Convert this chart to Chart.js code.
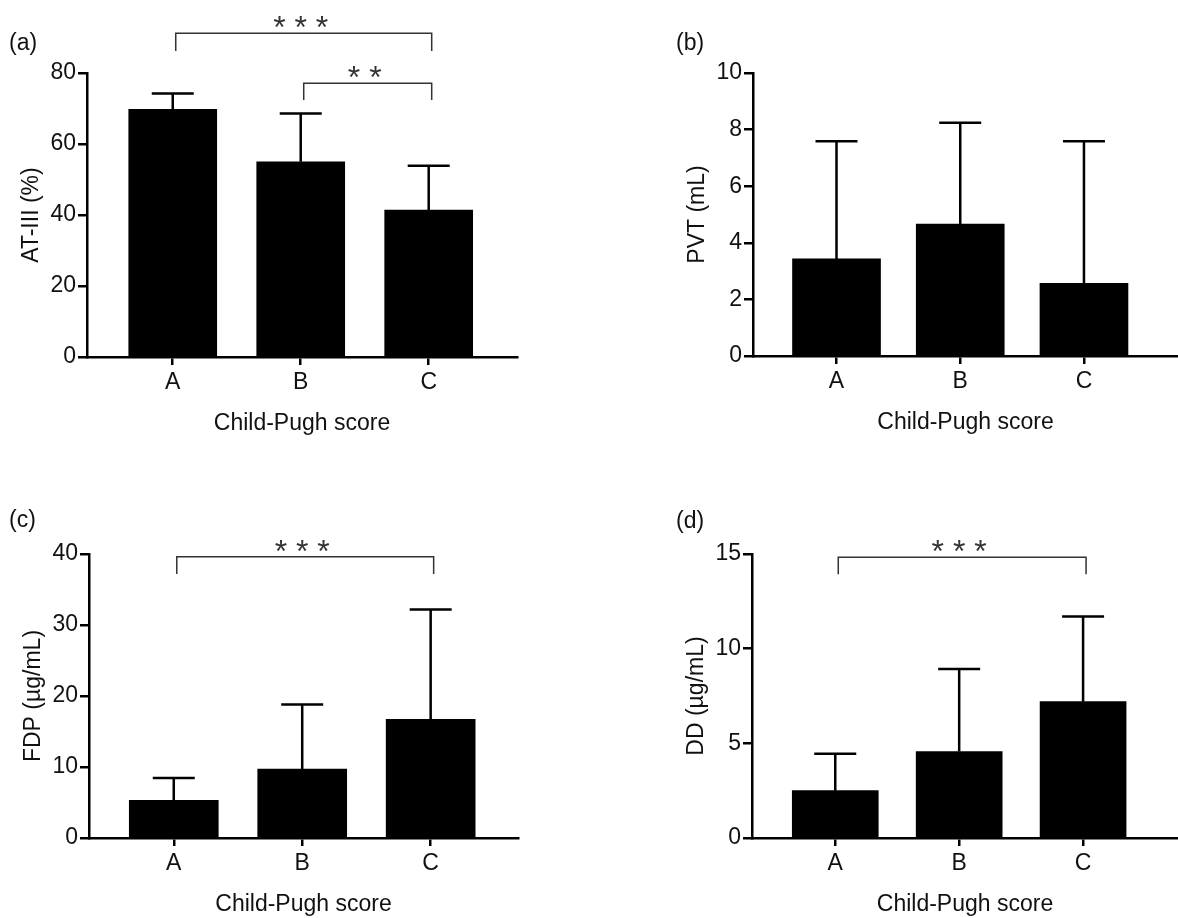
<!DOCTYPE html>
<html>
<head>
<meta charset="utf-8">
<script src="https://cdn.jsdelivr.net/npm/chart.js@4"></script>
<style>
  body { margin: 0; background: #fff; }
  .panel { position: absolute; width: 589px; height: 459px; }
  .tag { position: absolute; font: 23px "Liberation Sans", Arial, sans-serif; color: #111; }
</style>
</head>
<body>
<div class="panel" style="left:0;top:0"><canvas id="chartA" width="589" height="459"></canvas></div>
<div class="panel" style="left:589px;top:0"><canvas id="chartB" width="589" height="459"></canvas></div>
<div class="panel" style="left:0;top:459px"><canvas id="chartC" width="589" height="459"></canvas></div>
<div class="panel" style="left:589px;top:459px"><canvas id="chartD" width="589" height="459"></canvas></div>
<div class="tag" style="left:9px;top:29px">(a)</div>
<div class="tag" style="left:676px;top:29px">(b)</div>
<div class="tag" style="left:9px;top:506px">(c)</div>
<div class="tag" style="left:676px;top:507px">(d)</div>
<script>
// Child-Pugh groups
const groups = ["A", "B", "C"];

// mean and SD
const atMean = [69.8, 55.0, 41.4];
const atSd = [4.4, 13.6, 12.5];
const pvtMean = [3.43, 4.66, 2.57];
const pvtSd = [4.16, 3.58, 5.02];
const fdpMean = [5.3, 9.7, 16.7];
const fdpSd = [3.15, 9.1, 15.5];
const ddMean = [2.5, 4.57, 7.2];
const ddSd = [1.95, 4.35, 4.5];

// y axis ticks
const atTicks = [0, 20, 40, 60, 80];
const pvtTicks = [0, 2, 4, 6, 8, 10];
const fdpTicks = [0, 10, 20, 30, 40];
const ddTicks = [0, 5, 10, 15];

// significance brackets: group index from/to, bracket level, leg end, stars
const atBrackets = [
  { from: 0, to: 2, level: 91.2, leg: 86.2, text: "* * *" },
  { from: 1, to: 2, level: 77.1, leg: 72.4, text: "* *" }
];
const pvtBrackets = [];
const fdpBrackets = [{ from: 0, to: 2, level: 39.6, leg: 37.2, text: "* * *" }];
const ddBrackets = [{ from: 0, to: 2, level: 14.83, leg: 13.93, text: "* * *" }];

const FONT = '"Liberation Sans", Arial, sans-serif';

const errorBarPlugin = {
  id: "errorBars",
  afterDatasetsDraw(chart, args, opts) {
    const { ctx, scales: { x, y } } = chart;
    ctx.save();
    ctx.strokeStyle = "#000";
    ctx.lineWidth = 2.5;
    opts.means.forEach((m, i) => {
      const px = x.getPixelForValue(i);
      const base = y.getPixelForValue(m);
      const top = y.getPixelForValue(m + opts.sds[i]);
      ctx.beginPath();
      ctx.moveTo(px, base);
      ctx.lineTo(px, top);
      ctx.moveTo(px - 21, top);
      ctx.lineTo(px + 21, top);
      ctx.stroke();
    });

    // brackets with stars
    ctx.strokeStyle = "#333";
    ctx.fillStyle = "#333";
    ctx.lineWidth = 1.5;
    ctx.font = "32px " + FONT;
    ctx.textAlign = "center";
    ctx.textBaseline = "alphabetic";
    opts.brackets.forEach(b => {
      const x1 = x.getPixelForValue(b.from) + 3;
      const x2 = x.getPixelForValue(b.to) + 3;
      const yl = y.getPixelForValue(b.level);
      const yg = y.getPixelForValue(b.leg);
      ctx.beginPath();
      ctx.moveTo(x1, yg);
      ctx.lineTo(x1, yl);
      ctx.lineTo(x2, yl);
      ctx.lineTo(x2, yg);
      ctx.stroke();
      const xm = x.getPixelForValue((b.from + b.to) / 2);
      ctx.fillText(b.text, xm, yl + 5);
    });
    ctx.restore();
  }
};

function makePanel(id, title, means, sds, yTicks, brackets, box) {
  new Chart(document.getElementById(id), {
    type: "bar",
    data: {
      datasets: [{
        data: means.map((v, i) => ({ x: i, y: v })),
        backgroundColor: "#000",
        borderWidth: 0,
        barThickness: box.bar
      }]
    },
    options: {
      responsive: false,
      animation: false,
      layout: { padding: box.pad },
      plugins: {
        legend: { display: false },
        tooltip: { enabled: false },
        errorBars: { means: means, sds: sds, brackets: brackets }
      },
      scales: {
        x: {
          type: "linear",
          offset: false,
          min: box.xmin,
          max: box.xmax,
          afterBuildTicks: s => { s.ticks = groups.map((g, i) => ({ value: i })); },
          afterFit: s => { s.height = 80; },
          ticks: {
            callback: v => groups[v],
            font: { size: 23, family: FONT },
            color: "#111",
            padding: 4,
            maxRotation: 0
          },
          grid: { offset: false, drawOnChartArea: false, tickLength: 8, color: "#000", lineWidth: 2.5 },
          border: { color: "#000", width: 2.5 },
          title: {
            display: true,
            text: "Child-Pugh score",
            font: { size: 23, family: FONT },
            color: "#111",
            padding: { top: 0, bottom: 0 }
          }
        },
        y: {
          min: yTicks[0],
          max: yTicks[yTicks.length - 1],
          afterBuildTicks: s => { s.ticks = yTicks.map(v => ({ value: v })); },
          afterFit: s => { s.width = 87; },
          ticks: {
            font: { size: 23, family: FONT },
            color: "#111",
            padding: 2
          },
          grid: { drawOnChartArea: false, tickLength: 9, color: "#000", lineWidth: 2.5 },
          border: { color: "#000", width: 2.5 },
          title: {
            display: true,
            text: title,
            font: { size: 23, family: FONT },
            color: "#111",
            padding: { top: 18, bottom: 0 }
          }
        }
      }
    },
    plugins: [errorBarPlugin]
  });
}

makePanel("chartA", "AT-III (%)", atMean, atSd, atTicks, atBrackets,
  { bar: 88, xmin: -0.67, xmax: 2.69, pad: { left: 0, top: 73, right: 72, bottom: 22 } });
makePanel("chartB", "PVT (mL)", pvtMean, pvtSd, pvtTicks, pvtBrackets,
  { bar: 88, xmin: -0.675, xmax: 2.76, pad: { left: 77, top: 73, right: 0, bottom: 23 } });
makePanel("chartC", "FDP (µg/mL)", fdpMean, fdpSd, fdpTicks, fdpBrackets,
  { bar: 89, xmin: -0.66, xmax: 2.68, pad: { left: 2, top: 95, right: 71, bottom: 0 } });
makePanel("chartD", "DD (µg/mL)", ddMean, ddSd, ddTicks, ddBrackets,
  { bar: 86, xmin: -0.672, xmax: 2.766, pad: { left: 76, top: 95, right: 0, bottom: 0 } });
</script>
</body>
</html>
